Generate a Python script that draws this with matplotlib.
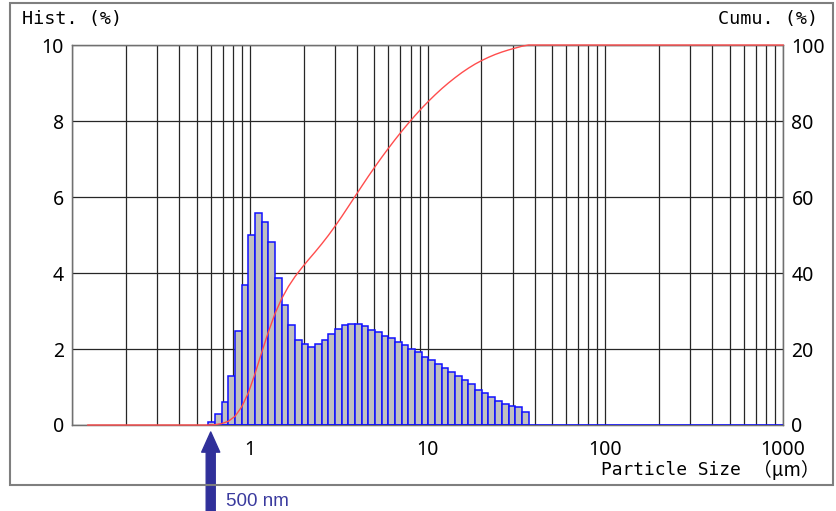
import numpy as np
import matplotlib
matplotlib.use("Agg")
import matplotlib.pyplot as plt
from matplotlib.patches import Rectangle

# histogram channels (um) and frequency (%)
bin_lo = 0.582
bin_hi = 36.9
hist = [0.09, 0.28, 0.61, 1.30, 2.48, 3.68, 4.99, 5.57, 5.35, 4.82,
        3.88, 3.15, 2.62, 2.25, 2.12, 2.04, 2.12, 2.24, 2.40, 2.52,
        2.63, 2.65, 2.65, 2.61, 2.51, 2.44, 2.35, 2.28, 2.19, 2.10,
        2.00, 1.91, 1.80, 1.70, 1.61, 1.49, 1.39, 1.30, 1.18, 1.07,
        0.93, 0.83, 0.74, 0.63, 0.55, 0.49, 0.47, 0.33]
cumu_start = 0.122
xticks = [0.1, 1, 10, 100, 1000]
xticklabels = ["", "1", "10", "100", "1000"]

edges = np.geomspace(bin_lo, bin_hi, len(hist) + 1)
cumu = np.cumsum(hist) / np.sum(hist) * 100

mono = ["DejaVu Sans Mono", "Noto Sans CJK JP"]
tickfont = "Noto Sans"
gridc = "#262626"
spinec = "#707070"

fig = plt.figure(figsize=(8.36, 5.11), dpi=100)
ax = fig.add_axes([0.0867, 0.1683, 0.85, 0.7436])
ax.set_xscale("log")
ax.set_xlim(0.1, 1000)
ax.set_ylim(0, 10)

ax.set_xticks(xticks)
ax.set_xticklabels(xticklabels)
ax.set_xticks([m * 10.0 ** e for e in range(-1, 3) for m in range(2, 10)], minor=True)
ax.set_xticklabels([], minor=True)
ax.set_yticks(range(0, 11, 2))
ax.grid(True, which="both", color=gridc, lw=0.9)
ax.set_axisbelow(True)
ax.tick_params(which="both", length=0, labelsize=14)
ax.tick_params(axis="x", pad=11)
ax.tick_params(axis="y", pad=6)
for lab in ax.get_xticklabels() + ax.get_yticklabels():
    lab.set_family(tickfont)

ax.bar(edges[:-1], hist, width=np.diff(edges), align="edge", color="#c0c0c0",
       edgecolor="#1010ff", linewidth=1.1, zorder=3)
ax.plot([edges[0], ax.get_xlim()[1]], [0, 0], color="#1010ff", lw=1.2, zorder=4)

for s in ax.spines.values():
    s.set_color(spinec)
    s.set_linewidth(1)

ax2 = ax.twinx()
ax2.set_ylim(0, 100)
ax2.set_yticks(range(0, 101, 20))
ax2.tick_params(length=0, labelsize=14, pad=6)
for lab in ax2.get_yticklabels():
    lab.set_family(tickfont)
for s in ax2.spines.values():
    s.set_color(spinec)
cx = np.concatenate([[cumu_start], edges, [1000]])
cy = np.concatenate([[0], [0], cumu, [100]])
ax2.plot(cx, cy, color="#ff4d4d", lw=1.0, zorder=5, clip_on=False)

fig.text(0.0263, 0.963, "Hist. (%)", family=mono, fontsize=13.3, va="center", ha="left")
fig.text(0.979, 0.963, "Cumu. (%)", family=mono, fontsize=13.3, va="center", ha="right")
fig.text(0.886, 0.080, "Particle Size", family=mono, fontsize=12.9,
         va="center", ha="right")
fig.text(0.981, 0.080, "（μm）", family=["Noto Sans CJK JP", "DejaVu Sans"], fontsize=13.5,
         va="center", ha="right")

# outer frame
fig.patches.append(Rectangle((0.012, 0.0509), 0.9845, 0.943, transform=fig.transFigure,
                             fill=False, edgecolor="#7f7f7f", lw=1.5))

# marker arrow at 500 nm
ax.annotate("", xy=(0.6, 0.1546), xycoords=("data", "figure fraction"),
            xytext=(0.6, -0.01), textcoords=("data", "figure fraction"),
            arrowprops=dict(arrowstyle="simple,head_width=1.3,head_length=1.45,tail_width=0.65",
                            mutation_scale=10, color="#30309a", shrinkA=0, shrinkB=0),
            annotation_clip=False)
fig.text(0.270, 0.010, "500 nm", family="Liberation Sans", fontsize=13.5,
         color="#3a3a9e", va="baseline", ha="left")

fig.savefig("out.png", dpi=100)
